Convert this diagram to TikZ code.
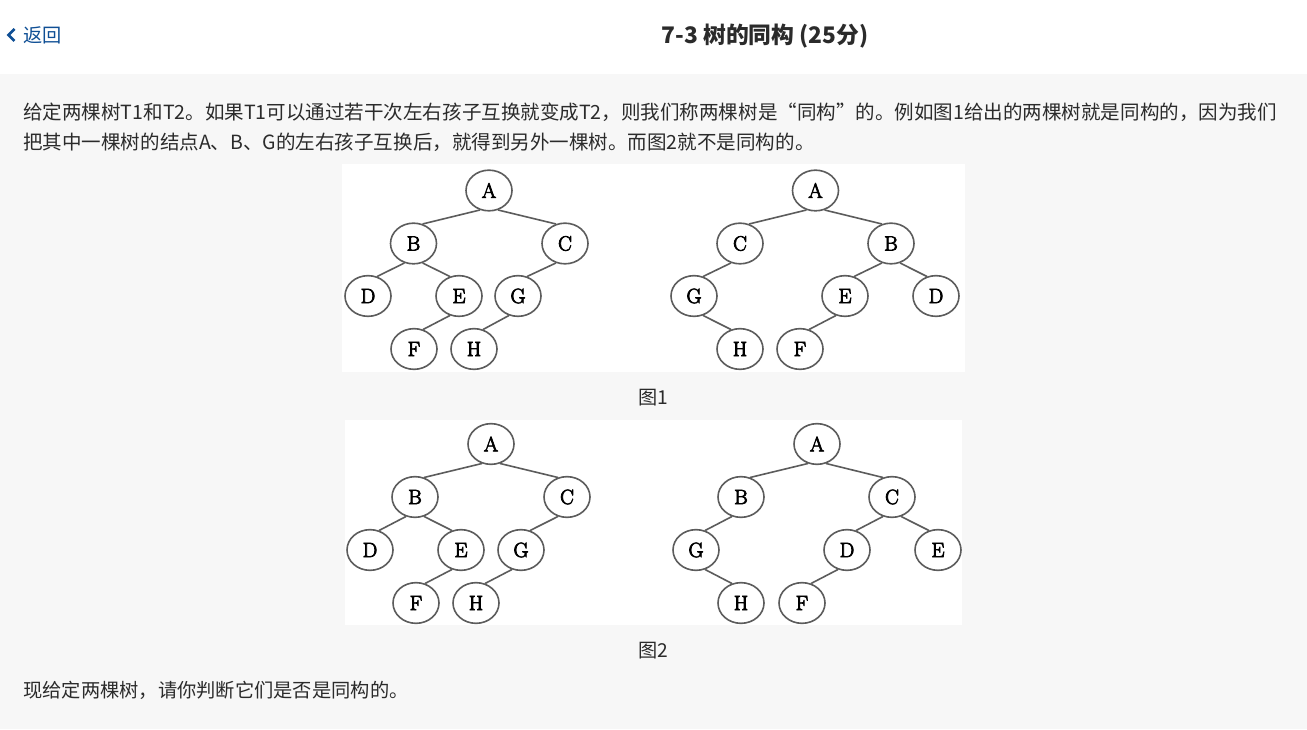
\documentclass[tikz,border=0pt]{standalone}
\usepackage{fontspec}
\usetikzlibrary{shapes.geometric}
\newfontfamily\cjk{Noto Sans CJK SC}
\newfontfamily\treef[FakeBold=3.5]{Latin Modern Roman}
\definecolor{pagebg}{HTML}{F7F7F7}
\definecolor{txt}{HTML}{2B2B2B}
\definecolor{linkc}{HTML}{0F4F95}
\definecolor{edgec}{HTML}{5C5C5C}
\tikzset{
  px/.style={x=0.75pt,y=-0.75pt},
  tn/.style={ellipse,draw=edgec,line width=1.2pt,fill=white,minimum width=34.5pt,minimum height=30.5pt,inner sep=0pt,text=black,font=\treef\fontsize{15.5}{15.5}\selectfont},
  ed/.style={draw=edgec,line width=1.2pt},
  body/.style={anchor=west,inner sep=0pt,text=txt,font=\cjk\fontsize{14.65}{14.65}\selectfont},
  figcap/.style={inner sep=0pt,text=txt,font=\cjk\fontsize{14.4}{14.4}\selectfont},
}
\newcommand{\LE}[2]{\path[ed] (#1.-115) -- (#2.65);}
\newcommand{\RE}[2]{\path[ed] (#1.-65) -- (#2.115);}
\begin{document}
\begin{tikzpicture}[px]
\useasboundingbox (0,0) rectangle (1307,730);
\fill[white] (0,0) rectangle (1307,730);
\fill[pagebg] (0,74) rectangle (1307,729);
% header
\path[draw=linkc,line width=2pt,line join=miter] (14.5,29) -- (8.5,35) -- (14.5,41);
\node[anchor=west,inner sep=0pt,text=linkc,font=\cjk\fontsize{14.4}{14.4}\selectfont] (back) at (23,35) {返回};
\node[inner sep=0pt,text=txt,font=\cjk\bfseries\fontsize{17.1}{17.1}\selectfont] (title) at (765,36.5) {7-3 树的同构 (25分)};
% text
\node[body] (l1) at (23,112) {给定两棵树T1和T2。如果T1可以通过若干次左右孩子互换就变成T2，则我们称两棵树是“同构”的。例如图1给出的两棵树就是同构的，因为我们};
\node[body] (l2) at (23,142) {把其中一棵树的结点A、B、G的左右孩子互换后，就得到另外一棵树。而图2就不是同构的。};
\node[figcap] (c1) at (653,398) {图1};
\node[figcap] (c2) at (653,651) {图2};
\node[body,font=\cjk\fontsize{14.45}{14.45}\selectfont] (l3) at (23,690) {现给定两棵树，请你判断它们是否是同构的。};
% images
\fill[white] (342,164) rectangle (965,372);
\fill[white] (345,420) rectangle (962,625);
% Fig 1 left
\node[tn] (a1) at (489,190.5) {A};
\node[tn] (b1) at (413.5,243.5) {B};
\node[tn] (c1n) at (565,243.5) {C};
\node[tn] (d1) at (368,296) {D};
\node[tn] (e1) at (459,296) {E};
\node[tn] (g1) at (518,296) {G};
\node[tn] (f1) at (414,349) {F};
\node[tn] (h1) at (474,349) {H};
\LE{a1}{b1}\RE{a1}{c1n}\LE{b1}{d1}\RE{b1}{e1}\LE{c1n}{g1}\LE{e1}{f1}\LE{g1}{h1}
% Fig 1 right
\node[tn] (a2) at (815.5,190.5) {A};
\node[tn] (c2n) at (740,243.5) {C};
\node[tn] (b2) at (891,243.5) {B};
\node[tn] (g2) at (694,296) {G};
\node[tn] (e2) at (845,296) {E};
\node[tn] (d2) at (936,296) {D};
\node[tn] (h2) at (740,349) {H};
\node[tn] (f2) at (800,349) {F};
\LE{a2}{c2n}\RE{a2}{b2}\LE{c2n}{g2}\RE{g2}{h2}\LE{b2}{e2}\RE{b2}{d2}\LE{e2}{f2}
% Fig 2 left
\node[tn] (a3) at (491,444) {A};
\node[tn] (b3) at (415,497) {B};
\node[tn] (c3) at (567,497) {C};
\node[tn] (d3) at (370,550) {D};
\node[tn] (e3) at (461,550) {E};
\node[tn] (g3) at (521,550) {G};
\node[tn] (f3) at (416,603) {F};
\node[tn] (h3) at (476,603) {H};
\LE{a3}{b3}\RE{a3}{c3}\LE{b3}{d3}\RE{b3}{e3}\LE{c3}{g3}\LE{e3}{f3}\LE{g3}{h3}
% Fig 2 right
\node[tn] (a4) at (817,444) {A};
\node[tn] (b4) at (741,497) {B};
\node[tn] (c4) at (892,497) {C};
\node[tn] (g4) at (696,550) {G};
\node[tn] (d4) at (847,550) {D};
\node[tn] (e4) at (938,550) {E};
\node[tn] (h4) at (741,603) {H};
\node[tn] (f4) at (802,603) {F};
\LE{a4}{b4}\RE{a4}{c4}\LE{b4}{g4}\RE{g4}{h4}\LE{c4}{d4}\RE{c4}{e4}\LE{d4}{f4}
\end{tikzpicture}
\end{document}
